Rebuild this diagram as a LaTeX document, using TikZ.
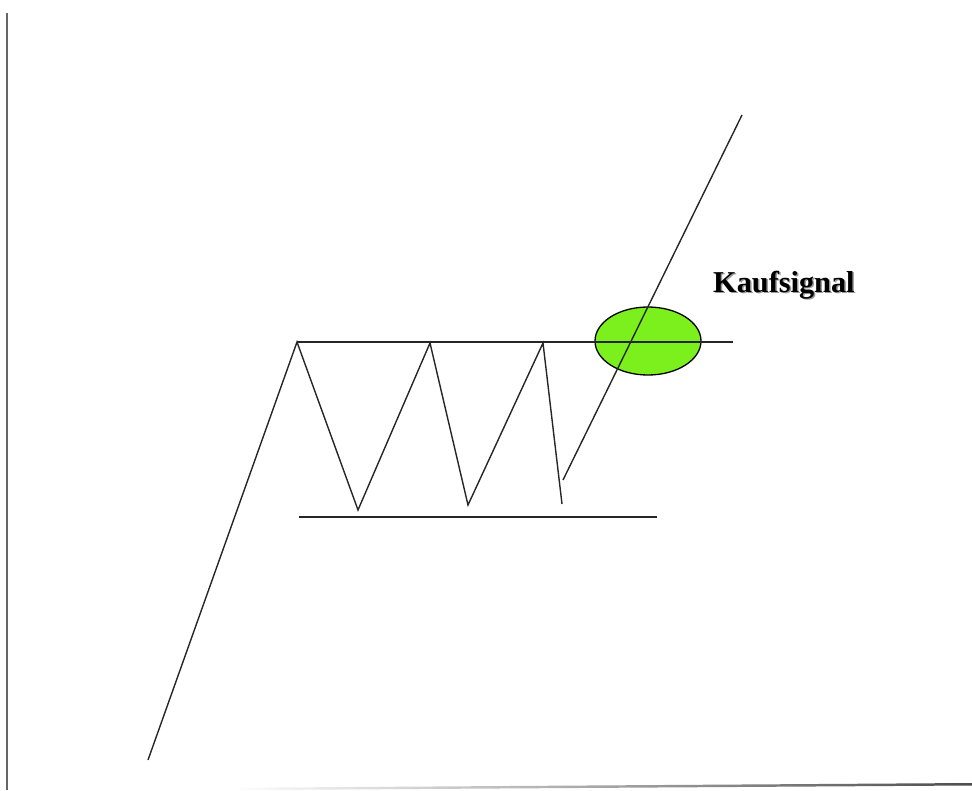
\documentclass[tikz,border=0pt]{standalone}
\usepackage{fontspec}
\setmainfont{Liberation Serif}
\definecolor{signalgreen}{RGB}{124,240,28}
\tikzset{
  chart/.style={line width=1.4pt, black!85},
  axisline/.style={line width=1.5pt, black!60},
  signal/.style={draw=black, line width=1.3pt, fill=signalgreen, ellipse, minimum width=106pt, minimum height=68pt, inner sep=0pt},
  label/.style={font=\fontsize{30.3}{35}\selectfont\bfseries, inner sep=0pt, anchor=base west}
}
\usetikzlibrary{shapes.geometric}
\begin{document}
\begin{tikzpicture}[x=1pt,y=-1pt]
\useasboundingbox (0,0) rectangle (972,790);
% axes
\coordinate (ytop) at (7,13);
\coordinate (origin) at (7,790);
\draw[axisline] (ytop) -- (origin);
\shade[left color=white, right color=black!70] (230,787.8) -- (972,783) -- (972,785.5) -- (230,790.2) -- cycle;
% ellipse
\node[signal] (ell) at (648,341) {};
% resistance and support
\coordinate (r1) at (297,342);
\coordinate (r2) at (733,342);
\coordinate (s1) at (299,517);
\coordinate (s2) at (657,517);
\draw[chart] (r1) -- (r2);
\draw[chart] (s1) -- (s2);
% zigzag
\coordinate (p0) at (148,760);
\coordinate (p1) at (297,342);
\coordinate (p2) at (358,510);
\coordinate (p3) at (430,343);
\coordinate (p4) at (468,505);
\coordinate (p5) at (543,343);
\coordinate (p6) at (562,504);
\draw[chart, line join=miter] (p0) -- (p1) -- (p2) -- (p3) -- (p4) -- (p5) -- (p6);
% breakout
\coordinate (b0) at (563,480);
\coordinate (b1) at (742,115);
\draw[chart] (b0) -- (b1);
% label
\node[label, text=black!40] (lblshadow) at (714.5,293.5) {Kaufsignal};
\node[label] (lbl) at (713,292) {Kaufsignal};
\end{tikzpicture}
\end{document}
